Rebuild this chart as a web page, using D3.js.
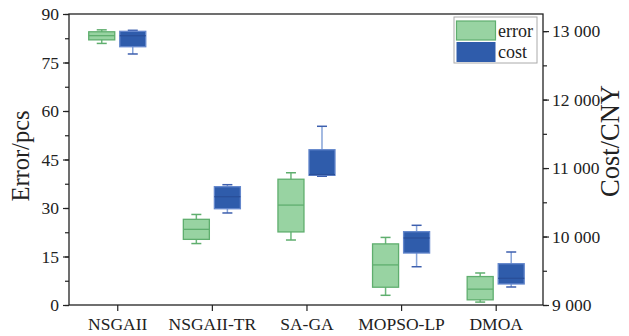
<!DOCTYPE html>
<html><head><meta charset="utf-8">
<script src="https://cdn.jsdelivr.net/npm/d3@7"></script>
<style>body{margin:0;background:#fff;}svg{display:block;}text{font-family:"Liberation Serif","Times New Roman",serif;}</style>
</head><body>
<svg id="c" width="629" height="336"></svg>
<script>
const categories = ["NSGAII","NSGAII-TR","SA-GA","MOPSO-LP","DMOA"];
// [whiskerLow, q1, median, q3, whiskerHigh]
const errorStats = [
  [80.9, 82.0, 83.3, 84.5, 85.1],
  [19.0, 20.3, 23.4, 26.5, 28.0],
  [20.1, 22.6, 30.9, 38.9, 40.9],
  [3.0, 5.5, 12.4, 18.9, 20.9],
  [0.9, 1.6, 4.9, 8.8, 9.9]
];
const costStats = [
  [12666, 12772, 12933, 12997, 13012],
  [10344, 10406, 10582, 10728, 10757],
  [10880, 10894, 10905, 11268, 11610],
  [9559, 9759, 9979, 10071, 10164],
  [9263, 9307, 9390, 9603, 9774]
];
const errorTicks = [0,15,30,45,60,75,90];
const costTicks = [9000,10000,11000,12000,13000];
const seriesNames = ["error","cost"];

const FONT = "'Liberation Serif','Times New Roman',serif";
const svg = d3.select("#c");
const L=69, R=543, T=14, B=305;
const x = d3.scaleLinear().domain([0.49,5.5]).range([L,R]);
const yE = d3.scaleLinear().domain([0,90]).range([B,T]);
const yC = d3.scaleLinear().domain([9000,13250]).range([B,T]);
const off = 0.164, bw = 0.275;
const boxW = x(1+bw)-x(1);
const capW = 10;

const styles = {
  error:{fill:"#98d3a2", stroke:"#5fae6e", whisk:"#6db87b", cap:"#5fae6e", med:"#5fae6e"},
  cost:{fill:"#2f5cab", stroke:"#6487cc", whisk:"#86a3d8", cap:"#3d5fae", med:"#2a4f99"}
};

function drawBoxes(stats, yS, dx, st){
  const g = svg.append("g");
  stats.forEach((s,i)=>{
    const cx = x(i+1+dx);
    g.append("line").attr("x1",cx).attr("x2",cx).attr("y1",yS(s[4])).attr("y2",yS(s[0])).attr("stroke",st.whisk).attr("stroke-width",1.5);
    g.append("line").attr("x1",cx-capW/2).attr("x2",cx+capW/2).attr("y1",yS(s[4])).attr("y2",yS(s[4])).attr("stroke",st.cap).attr("stroke-width",1.5);
    g.append("line").attr("x1",cx-capW/2).attr("x2",cx+capW/2).attr("y1",yS(s[0])).attr("y2",yS(s[0])).attr("stroke",st.cap).attr("stroke-width",1.5);
    g.append("rect").attr("x",cx-boxW/2).attr("width",boxW).attr("y",yS(s[3])).attr("height",yS(s[1])-yS(s[3]))
      .attr("fill",st.fill).attr("stroke",st.stroke).attr("stroke-width",1.3);
    g.append("line").attr("x1",cx-boxW/2).attr("x2",cx+boxW/2).attr("y1",yS(s[2])).attr("y2",yS(s[2])).attr("stroke",st.med).attr("stroke-width",1.3);
  });
}
drawBoxes(errorStats, yE, -off, styles.error);
drawBoxes(costStats, yC, off, styles.cost);

const axCol="#222";
svg.append("rect").attr("x",L).attr("y",T).attr("width",R-L).attr("height",B-T).attr("fill","none").attr("stroke",axCol).attr("stroke-width",1.3);

const gl = svg.append("g").attr("transform",`translate(${L},0)`);
gl.append("g").call(d3.axisLeft(yE).tickValues(d3.range(0,91,7.5)).tickSize(4).tickFormat(""));
gl.append("g").call(d3.axisLeft(yE).tickValues(errorTicks).tickSize(6).tickPadding(4).tickFormat(d3.format("d")));
const gr = svg.append("g").attr("transform",`translate(${R},0)`);
gr.append("g").call(d3.axisRight(yC).tickValues(d3.range(9000,13001,500)).tickSize(4).tickFormat(""));
gr.append("g").call(d3.axisRight(yC).tickValues(costTicks).tickSize(6).tickPadding(3).tickFormat(d=>d3.format(",")(d).replace(",", " ")));
const gb = svg.append("g").attr("transform",`translate(0,${B})`);
gb.call(d3.axisBottom(x).tickValues([1,2,3,4,5]).tickSize(6).tickPadding(7).tickFormat(d=>categories[d-1]));
svg.selectAll(".domain").remove();
svg.selectAll("g").attr("font-family",null).attr("font-size",null);
svg.selectAll(".tick line").attr("stroke",axCol).attr("stroke-width",1.2);
svg.selectAll(".tick text").attr("fill","#222").attr("font-size",17.5).attr("font-family",FONT);

svg.append("text").attr("transform","translate(29,156) rotate(-90)").attr("text-anchor","middle")
  .attr("font-family",FONT).attr("font-size",24.5).attr("fill","#222").text("Error/pcs");
svg.append("text").attr("transform","translate(619,141) rotate(-90)").attr("text-anchor","middle")
  .attr("font-family",FONT).attr("font-size",26.5).attr("fill","#222").text("Cost/CNY");

const lg = svg.append("g");
lg.append("rect").attr("x",454).attr("y",17).attr("width",83).attr("height",46).attr("fill","#fff").attr("stroke","#aaa").attr("stroke-width",1);
seriesNames.forEach((n,i)=>{
  const st = styles[n];
  lg.append("rect").attr("x",456.5).attr("y",21+i*21).attr("width",39).attr("height",i===0?19:20)
    .attr("fill",st.fill).attr("stroke",i===0?st.stroke:"none").attr("stroke-width",1.2);
  lg.append("text").attr("x",498).attr("y",37+i*21).attr("font-family",FONT).attr("font-size",18).attr("fill","#222").text(n);
});
</script>
</body></html>
